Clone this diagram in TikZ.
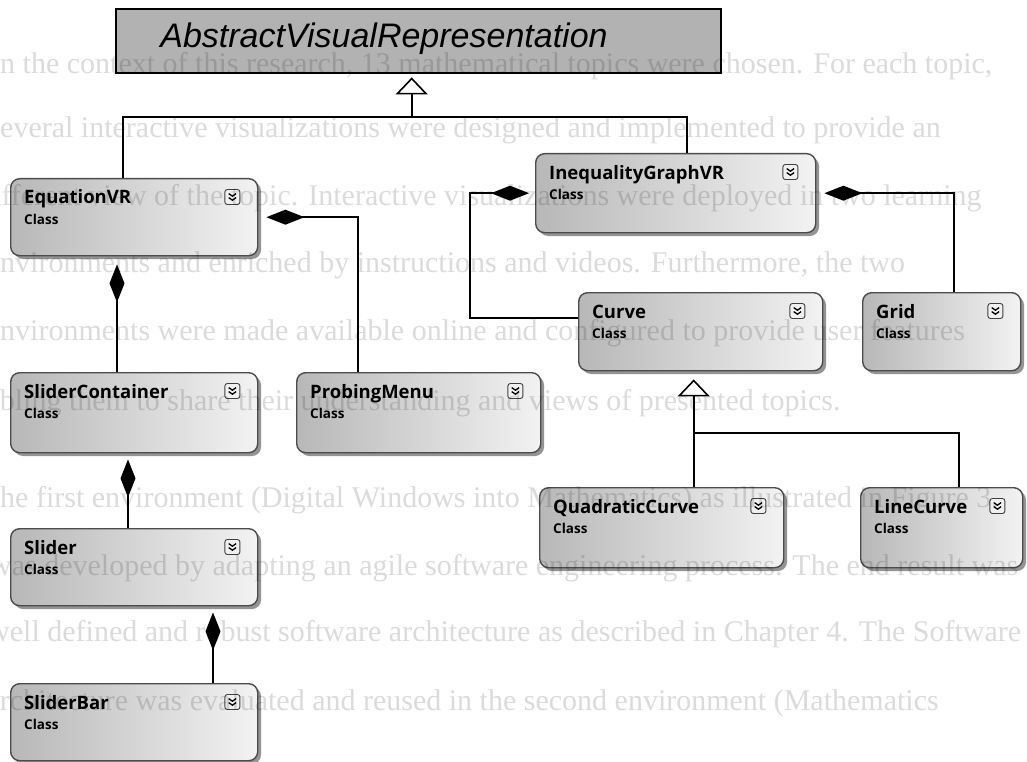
\documentclass[tikz,border=0pt]{standalone}
\usepackage{fontspec}
\setmainfont{Liberation Serif}
\newfontfamily\umlfont{Open Sans}
\newfontfamily\absfont{Liberation Sans}
\usetikzlibrary{arrows.meta}

\tikzset{
  classbox/.style={draw=black!70, line width=1.4pt, rounded corners=9pt,
    left color=black!28, right color=black!5, inner sep=0pt, anchor=north west},
  classshadow/.style={fill=black!42, rounded corners=9pt},
  classtitle/.style={font=\umlfont\bfseries\fontsize{18.5}{20}\selectfont,
    anchor=base west, inner sep=0pt},
  classkind/.style={font=\umlfont\bfseries\fontsize{13.5}{14}\selectfont,
    anchor=base west, inner sep=0pt},
  absbox/.style={draw=black, line width=2.4pt, fill=black!30, inner sep=0pt,
    anchor=north west},
  link/.style={draw=black, line width=1.9pt},
  comp/.style={link, -{Diamond[length=38pt,width=15pt]}, shorten >=8pt},
  gen/.style={link, -{Triangle[open, length=17pt, width=32pt, line width=1.6pt]}},
  pagetext/.style={font=\fontsize{30}{30}\selectfont, text=black, opacity=0.14,
    anchor=base west, inner sep=0pt},
  chevron/.pic={
    \draw[draw=black!75, fill=black!6, line width=0.9pt, rounded corners=2.5pt]
      (-7.5pt,-7.5pt) rectangle (7.5pt,7.5pt);
    \draw[line width=1.3pt] (-3.7pt,3.4pt) -- (0pt,0.8pt) -- (3.7pt,3.4pt)
      (-3.7pt,-0.6pt) -- (0pt,-3.2pt) -- (3.7pt,-0.6pt);
  }
}

% name, left, top, right, bottom, title
\newcommand\umlclass[6]{%
  \fill[classshadow] (#2+4,#3+4) rectangle (#4+4,#5+4);
  \node[classbox, minimum width={(#4-#2)*1pt}, minimum height={(#5-#3)*1pt}]
    (#1) at (#2,#3) {};
  \node[classtitle] (#1-name) at ([xshift=14pt,yshift=-26pt]#1.north west) {#6};
  \node[classkind] (#1-kind) at ([xshift=14pt,yshift=-46pt]#1.north west) {Class};
  \pic at ([xshift=-26pt,yshift=-19pt]#1.north east) {chevron};
}

\begin{document}
\begin{tikzpicture}[x=1pt, y=-1pt]
\useasboundingbox (0,0) rectangle (1027,762);
\fill[white] (0,0) rectangle (1027,762);

% abstract base class
\node[absbox, minimum width=605pt, minimum height=64pt] (avr) at (115,8) {};
\node[font=\absfont\itshape\fontsize{34}{36}\selectfont, anchor=base, inner sep=0pt]
  (avr-name) at (384,48) {AbstractVisualRepresentation};

% classes
\umlclass{eqvr}{10}{178}{257}{255}{EquationVR}
\umlclass{sc}{10}{372}{257}{452}{SliderContainer}
\umlclass{probe}{296}{372}{540}{452}{ProbingMenu}
\umlclass{slider}{10}{528}{257}{605}{Slider}
\umlclass{sbar}{10}{683}{257}{760}{SliderBar}
\umlclass{igvr}{535}{153}{815}{232}{InequalityGraphVR}
\umlclass{curve}{578}{292}{822}{370}{Curve}
\umlclass{grid}{862}{292}{1020}{370}{Grid}
\umlclass{quad}{539}{487}{783}{567}{QuadraticCurve}
\umlclass{lc}{860}{487}{1022}{567}{LineCurve}

% inheritance from the abstract base
\coordinate (hub) at ([xshift=-7pt,yshift=-43pt]avr.south);
\draw[gen, shorten >=3pt] (hub) -- ([xshift=-7pt]avr.south);
\draw[link] ([xshift=113pt]eqvr.north west) |- (hub) -| ([xshift=152pt]igvr.north west);

% compositions
\draw[comp] ([xshift=62pt]probe.north west) |- (eqvr.east);
\draw[comp] ([xshift=107pt]sc.north west) -- ([xshift=107pt]eqvr.south west);
\draw[comp, shorten >=6pt] ([xshift=118pt]slider.north west) -- ([xshift=118pt]sc.south west);
\draw[comp, shorten >=6pt] ([xshift=203pt]sbar.north west) -- ([xshift=203pt]slider.south west);
\draw[comp, shorten >=6pt] ([yshift=14pt]curve.west) -- ++(-108pt,0pt) |- (igvr.west);
\draw[comp] ([xshift=12pt]grid.north) |- (igvr.east);

% curve specialisations
\coordinate (split) at ([xshift=32pt,yshift=54pt]quad.north);
\draw[gen, shorten >=8pt] ([xshift=32pt]quad.north) -- ([xshift=-7pt]curve.south);
\draw[link] ([xshift=17pt]lc.north) |- (split);

% text from the reverse side of the page
\node[pagetext] (p1) at (0,74) {n the context of this research, 13 mathematical topics were chosen. For each topic,};
\node[pagetext] (p2) at (0,138) {everal interactive visualizations were designed and implemented to provide an};
\node[pagetext] (p3) at (-22,205) {different view of the topic. Interactive visualizations were deployed in two learning};
\node[pagetext] (p4) at (0,272) {nvironments and enriched by instructions and videos. Furthermore, the two};
\node[pagetext] (p5) at (0,340) {nvironments were made available online and configured to provide user features};
\node[pagetext] (p6) at (-42,410) {enabling them to share their understanding and views of presented topics.};
\node[pagetext] (p7) at (0,507) {he first environment (Digital Windows into Mathematics) as illustrated in Figure 3.};
\node[pagetext] (p8) at (-10,575) {was developed by adapting an agile software engineering process. The end result was};
\node[pagetext] (p9) at (-12,641) {well defined and robust software architecture as described in Chapter 4. The Software};
\node[pagetext] (p10) at (-22,710) {Architecture was evaluated and reused in the second environment (Mathematics};
\end{tikzpicture}
\end{document}
